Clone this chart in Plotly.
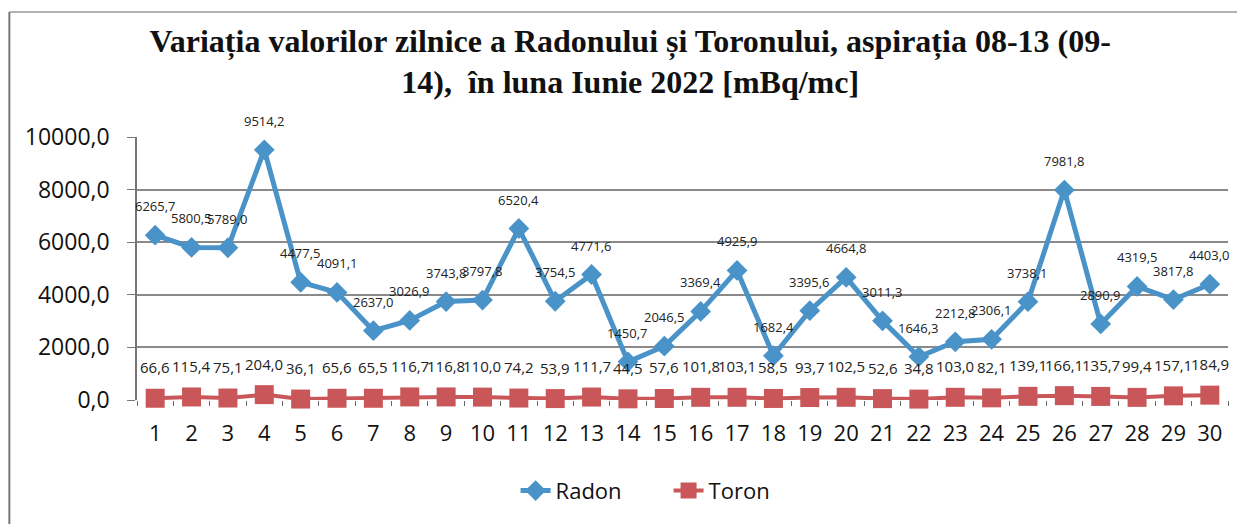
import plotly.graph_objects as go

days = list(range(1, 31))
radon = [6265.7, 5800.5, 5789.0, 9514.2, 4477.5, 4091.1, 2637.0, 3026.9, 3743.8, 3797.8,
         6520.4, 3754.5, 4771.6, 1450.7, 2046.5, 3369.4, 4925.9, 1682.4, 3395.6, 4664.8,
         3011.3, 1646.3, 2212.8, 2306.1, 3738.1, 7981.8, 2890.9, 4319.5, 3817.8, 4403.0]
toron = [66.6, 115.4, 75.1, 204.0, 36.1, 65.6, 65.5, 116.7, 116.8, 110.0,
         74.2, 53.9, 111.7, 44.5, 57.6, 101.8, 103.1, 58.5, 93.7, 102.5,
         52.6, 34.8, 103.0, 82.1, 139.1, 166.1, 135.7, 99.4, 157.1, 184.9]
y_ticks = [0, 2000, 4000, 6000, 8000, 10000]

title = ("<b>Variația valorilor zilnice a Radonului și Toronului, aspirația 08-13 (09-<br>"
         "14),  în luna Iunie 2022 [mBq/mc]</b>")

radon_color = "#4A93C9"
toron_color = "#C9575A"

fig = go.Figure()
fig.add_trace(go.Scatter(
    x=days, y=radon, name="Radon", mode="lines+markers",
    line=dict(color=radon_color, width=5),
    marker=dict(symbol="diamond", size=16, color=radon_color),
    cliponaxis=False,
))
fig.add_trace(go.Scatter(
    x=days, y=toron, name="Toron", mode="lines+markers",
    line=dict(color=toron_color, width=4),
    marker=dict(symbol="square", size=19, color=toron_color),
    cliponaxis=False,
))

# data labels, excel style (placed a bit above each point)
for d, v in zip(days, radon):
    fig.add_annotation(x=d, y=v, text=f"{v:.1f}".replace(".", ","), showarrow=False,
                       yshift=29, font=dict(family="Open Sans", size=13, color="#222"))
for d, v in zip(days, toron):
    fig.add_annotation(x=d, y=v, text=f"{v:.1f}".replace(".", ","), showarrow=False,
                       yshift=31, font=dict(family="Open Sans", size=15, color="#222"))

fig.update_layout(
    width=1237, height=516,
    margin=dict(l=129, r=17, t=129, b=122),
    paper_bgcolor="white", plot_bgcolor="white",
    separators=",.",
    title=dict(text=title, x=0.503, xanchor="center", y=0.915, yanchor="middle",
               font=dict(family="Liberation Serif", size=32, color="#111")),
    font=dict(family="Open Sans", color="#111"),
    legend=dict(orientation="h", x=0.347, xanchor="left", y=-0.345, yanchor="middle",
                font=dict(size=22), entrywidth=108, tracegroupgap=0),
    xaxis=dict(range=[0.5, 30.5], tickvals=days, showgrid=False, showline=False,
               zeroline=False, ticks="", ticklabelstandoff=18, tickfont=dict(size=22),
               minor=dict(ticks="outside", tick0=0.5, dtick=1, ticklen=5,
                          tickcolor="#666", showgrid=False)),
    yaxis=dict(range=[0, 10000], tickvals=y_ticks, tickformat=".1f",
               showgrid=True, gridcolor="#8a8a8a", gridwidth=1.5,
               showline=True, linecolor="#777", linewidth=1.5,
               ticks="outside", ticklen=8, tickcolor="#777",
               ticklabelstandoff=13, zeroline=False, tickfont=dict(size=23)),
    showlegend=True,
)

# chart frame (top and left edges visible in reference)
fig.add_shape(type="line", xref="paper", yref="paper", x0=-0.117, x1=1.1, y0=1.475, y1=1.475,
              line=dict(color="#999", width=1.5))
fig.add_shape(type="line", xref="paper", yref="paper", x0=-0.117, x1=-0.117, y0=-0.5, y1=1.475,
              line=dict(color="#777", width=2))

fig.write_html("out.html")
